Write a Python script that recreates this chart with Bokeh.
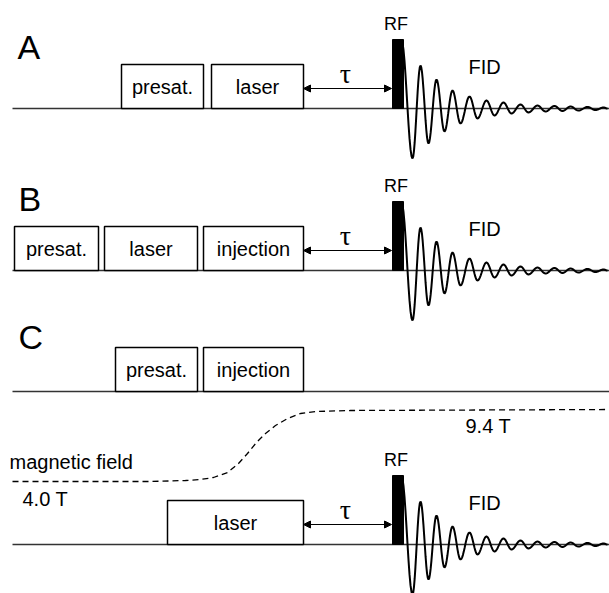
import numpy as np
from bokeh.plotting import figure
from bokeh.models import Range1d, Arrow, NormalHead, ColumnDataSource
from bokeh.core.properties import value
from bokeh.embed import file_html
from bokeh.resources import INLINE

# ---------------- data (diagram units = pixels) -------------
panel_letters = ["A", "B", "C"]
panel_letter_x = [17, 18, 18]
panel_letter_y = [46, 198, 336]

# time lines (solid horizontal traces)
trace_names = ["A", "B", "C_upper", "C"]
trace_y = [108, 270, 391, 544]
trace_start = 12
trace_end = 609

# blocks of the pulse sequence
box_trace = ["A", "A", "B", "B", "B", "C_upper", "C_upper", "C"]
box_label = ["presat.", "laser", "presat.", "laser", "injection",
             "presat.", "injection", "laser"]
box_start = [121, 211, 14, 104, 203, 115, 203, 167]
box_end = [203, 303, 98, 197, 303, 197, 303, 303]
box_height = 44

# RF pulse / delay / acquisition rows
acq_traces = ["A", "B", "C"]
rf_start = 392
rf_end = 403
rf_height = 69
tau_start = 303
tau_end = 391
tau_level = 20

# FID extrema: time offset from RF end and signed amplitude
fid_t = [-2, 9, 17, 25, 33, 41, 49, 57, 66, 74, 83, 91, 100, 108, 117,
         125, 134, 142, 151, 159, 167, 175, 184, 192, 200, 204]
fid_amp = [68, -50, 43, -35, 29, -23, 18, -15, 12, -10, 8, -7, 6, -5, 4,
           -4, 3, -3, 2.5, -2.5, 2, -2, 1.5, -1.5, 1, 0]

# magnetic field trace (dashed) in panel C
field_x = [12, 150, 185, 200, 213, 227, 238, 247, 256, 265, 275, 287, 300,
           315, 350, 609]
field_y = [481, 481, 480, 479, 477, 472, 463, 453, 442, 433, 425, 418, 413,
           411, 410, 409]
field_labels = ["magnetic field", "4.0 T", "9.4 T"]
field_label_x = [9, 22, 465]
field_label_y = [461, 498, 425]

# ---------------- figure -------------
W, H = 609, 593
p = figure(width=W, height=H, x_range=Range1d(0, W), y_range=Range1d(H, 0),
           output_backend="svg", toolbar_location=None, min_border=0)
p.axis.visible = False
p.grid.visible = False
p.outline_line_color = None
p.background_fill_color = "white"
p.border_fill_color = "white"

sans = value("Liberation Sans")
ymap = dict(zip(trace_names, trace_y))

# solid traces
p.multi_line(xs=[[trace_start, trace_end] for _ in trace_y],
             ys=[[y, y] for y in trace_y], line_color="#333333", line_width=1.3)

# dashed magnetic field
p.line(field_x, field_y, line_color="black", line_width=1.3, line_dash="6 4")

# boxes
bsrc = ColumnDataSource(dict(
    left=box_start, right=box_end,
    bottom=[ymap[t] for t in box_trace],
    top=[ymap[t] - box_height for t in box_trace],
    cx=[(a + b) / 2 for a, b in zip(box_start, box_end)],
    ty=[ymap[t] - box_height / 2 for t in box_trace],
    label=box_label))
p.quad(left="left", right="right", top="top", bottom="bottom", source=bsrc,
       fill_color="white", line_color="black", line_width=1.5)
p.text(x="cx", y="ty", text="label", source=bsrc, text_font=sans,
       text_font_size="20px", text_align="center", text_baseline="middle",
       text_color="black")

# RF pulses, FIDs, delay arrows
fx, fy = [], []
for t in acq_traces:
    base = ymap[t]
    xs, ys = [], []
    for i in range(len(fid_t) - 1):
        s = np.linspace(0, 1, 12)
        a0, a1 = fid_amp[i], fid_amp[i + 1]
        xs.extend(rf_end + fid_t[i] + (fid_t[i + 1] - fid_t[i]) * s)
        ys.extend(base - (a0 + (a1 - a0) * (1 - np.cos(np.pi * s)) / 2))
    fx.append(list(xs))
    fy.append(list(ys))
    p.add_layout(Arrow(
        start=NormalHead(size=7, fill_color="black", line_color="black", line_width=1),
        end=NormalHead(size=7, fill_color="black", line_color="black", line_width=1),
        x_start=tau_start, y_start=base - tau_level,
        x_end=tau_end, y_end=base - tau_level, line_width=1, line_color="black"))

p.multi_line(xs=fx, ys=fy, line_color="black", line_width=2)

rf_base = [ymap[t] for t in acq_traces]
p.quad(left=[rf_start] * 3, right=[rf_end] * 3, bottom=rf_base,
       top=[b - rf_height for b in rf_base], fill_color="black", line_color="black")

p.text(x=[395.5] * 3, y=[b - rf_height - 16 for b in rf_base], text=["RF"] * 3,
       text_font=sans, text_font_size="18px", text_align="center",
       text_baseline="middle", text_color="black")
p.text(x=[468] * 3, y=[b - 42 for b in rf_base], text=["FID"] * 3,
       text_font=sans, text_font_size="20px", text_align="left",
       text_baseline="middle", text_color="black")
p.text(x=[345] * 3, y=[b - tau_level - 15 for b in rf_base], text=["τ"] * 3,
       text_font=value("Liberation Serif"), text_font_size="28px",
       text_align="center", text_baseline="middle", text_color="black")

# panel letters
p.text(x=panel_letter_x, y=panel_letter_y, text=panel_letters, text_font=sans,
       text_font_size="34px", text_align="left", text_baseline="middle",
       text_color="black")

# field labels
p.text(x=field_label_x, y=field_label_y, text=field_labels, text_font=sans,
       text_font_size="20px", text_align="left", text_baseline="middle",
       text_color="black")

open("out.html", "w").write(file_html(p, INLINE))
